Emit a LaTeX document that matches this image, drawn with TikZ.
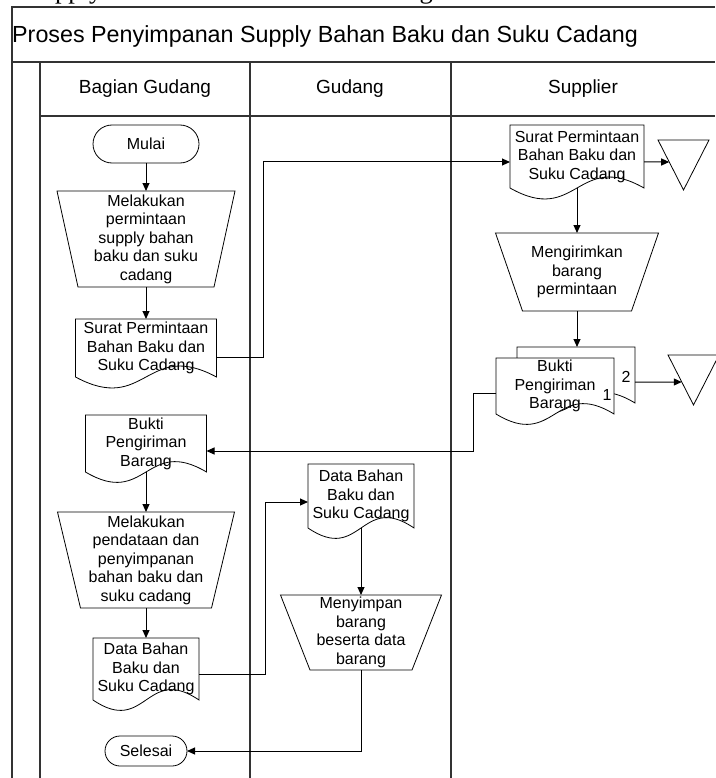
\documentclass[tikz,border=0pt]{standalone}
\usepackage{fontspec}
\setmainfont{Liberation Sans}
\newfontfamily\capserif{Liberation Serif}
\usetikzlibrary{arrows.meta,calc,shapes.misc}

\newcommand{\nodefont}{\fontsize{16}{18.5}\selectfont}
\newcommand{\headfont}{\fontsize{19}{22}\selectfont}
\newcommand{\titlefont}{\fontsize{23.3}{27}\selectfont}
\newcommand{\capfont}{\capserif\fontsize{26.5}{30}\selectfont}

% outline of a document symbol (wavy bottom) around a node
\newcommand{\docpath}[2]{(#1.north west) -- (#1.north east) -- (#1.south east)
  .. controls ($(#1.south)+(0,-#2)$) and ($(#1.south)+(0,#2)$) .. (#1.south west) -- cycle}
% outline of a manual operation (upside-down trapezium) around a node
\newcommand{\trappath}[2]{(#1.north west) -- (#1.north east) -- ($(#1.south east)+(-#2,0)$)
  -- ($(#1.south west)+(#2,0)$) -- cycle}
% outline of an offline storage triangle around a node
\newcommand{\tripath}[1]{(#1.north west) -- (#1.north east) -- (#1.south) -- cycle}

\tikzset{
  frameline/.style={draw=black!80, line width=1.3pt},
  outline/.style={draw=black, line width=0.8pt},
  conn/.style={draw=black, line width=1pt},
  arr/.style={conn, -{Triangle[length=8pt,width=7pt]}},
  box/.style={inner sep=0pt, outer sep=0pt, align=center, font=\nodefont, text=black},
  term/.style={box, rounded rectangle, draw=black, line width=0.8pt},
  head/.style={inner sep=0pt, font=\headfont, text=black},
}

\begin{document}
\begin{tikzpicture}[x=1pt,y=-1pt]
\useasboundingbox (0,0) rectangle (715,778);

% caption line above the chart (only its lower edge lies on the page)
\begin{scope}
  \clip (0,0) rectangle (715,7);
  \node[anchor=base west, inner sep=0pt, font=\capfont] (caption) at (27,-1.5) {Supply Bahan Baku dan Suku Cadang};
\end{scope}

% swimlane frame
\draw[frameline] (12,778) -- (12,7) -- (715,7);
\draw[frameline] (12,62) -- (715,62);
\draw[frameline] (40,116) -- (715,116);
\draw[frameline] (40,62) -- (40,778);
\draw[frameline] (250,62) -- (250,778);
\draw[frameline] (451,62) -- (451,778);

\node[anchor=west, inner sep=0pt, font=\titlefont] (title) at (12,36) {Proses Penyimpanan Supply Bahan Baku dan Suku Cadang};
\node[head] (laneA) at (145,89) {Bagian Gudang};
\node[head] (laneB) at (350,89) {Gudang};
\node[head] (laneC) at (583,89) {Supplier};

% ---- Bagian Gudang ----
\node[term, minimum width=106pt, minimum height=38pt] (mulai) at (146,144) {Mulai};

\node[box, minimum width=178pt, minimum height=96pt] (trap1) at (146,239)
  {Melakukan\\permintaan\\supply bahan\\baku dan suku\\cadang};
\draw[outline] \trappath{trap1}{21};

\node[box, minimum width=141pt, minimum height=58pt] (doc1) at (146,348)
  {Surat Permintaan\\Bahan Baku dan\\Suku Cadang};
\draw[outline] \docpath{doc1}{38};

\node[box, minimum width=121pt, minimum height=57pt] (bukti) at (146,443.5)
  {Bukti\\Pengiriman\\Barang};
\draw[outline] \docpath{bukti}{36};

\node[box, minimum width=177pt, minimum height=96pt] (trap3) at (146,560)
  {Melakukan\\pendataan dan\\penyimpanan\\bahan baku dan\\suku cadang};
\draw[outline] \trappath{trap3}{23};

\node[box, minimum width=106pt, minimum height=62pt] (datadoc) at (146,669)
  {Data Bahan\\Baku dan\\Suku Cadang};
\draw[outline] \docpath{datadoc}{36};

\node[term, minimum width=82pt, minimum height=30pt] (selesai) at (146,751) {Selesai};

% ---- Gudang ----
\node[box, minimum width=106pt, minimum height=64pt] (gdata) at (361,496)
  {Data Bahan\\Baku dan\\Suku Cadang};
\draw[outline] \docpath{gdata}{36};

\node[box, minimum width=161pt, minimum height=75pt] (trap4) at (361,632.5)
  {Menyimpan\\barang\\beserta data\\barang};
\draw[outline] \trappath{trap4}{29.5};

% ---- Supplier ----
\node[box, minimum width=134pt, minimum height=63pt] (sdoc) at (577,156.5)
  {Surat Permintaan\\Bahan Baku dan\\Suku Cadang};
\draw[outline] \docpath{sdoc}{38};

\node[box, minimum width=51pt, minimum height=50pt] (tri1) at (683.5,165) {};
\draw[outline] \tripath{tri1};

\node[box, minimum width=163pt, minimum height=78pt] (trap2) at (577,272)
  {Mengirimkan\\barang\\permintaan};
\draw[outline] \trappath{trap2}{27};

% two-copy document
\node[box, minimum width=118pt, minimum height=56pt] (back) at (576,375) {};
\node[box, minimum width=118pt, minimum height=56pt] (front) at (555,386) {};
\draw[outline, fill=white] \docpath{back}{36};
\draw[outline, fill=white] \docpath{front}{36};
\node[box] (fronttext) at (front.center) {Bukti\\Pengiriman\\Barang};
\node[box] (copy2) at (626,377) {2};
\node[box] (copy1) at (607,395) {1};

\node[box, minimum width=51pt, minimum height=50pt] (tri2) at (693.5,380) {};
\draw[outline] \tripath{tri2};

% ---- flow ----
\draw[arr] (mulai.south) -- (mulai.south |- trap1.north);
\draw[arr] (trap1.south) -- (trap1.south |- doc1.north);
\draw[arr] ($(doc1.east)+(0,9)$) -- ++(47,0) |- ($(sdoc.west)+(0,5.5)$);
\draw[arr] ($(sdoc.east)+(0,5.5)$) -- ($(tri1.north west)!0.44!(tri1.south)$);
\draw[arr] (sdoc.south) -- (sdoc.south |- trap2.north);
\draw[arr] (trap2.south) -- (trap2.south |- back.north);
\draw[arr] ($(back.east)+(0,7)$) -- ($(tri2.north west)!0.54!(tri2.south)$);
\draw[arr] ($(front.west)+(0,7)$) -- ++(-23,0) |- ($(bukti.east)+(0,7.5)$);
\draw[arr] (bukti.south) -- (bukti.south |- trap3.north);
\draw[arr] (trap3.south) -- (trap3.south |- datadoc.north);
\draw[arr] ($(datadoc.east)+(0,5)$) -- ++(66,0) |- ($(gdata.west)+(0,6)$);
\draw[arr] (gdata.south) -- (gdata.south |- trap4.north);
\draw[arr] (trap4.south) |- (selesai.east);

\end{tikzpicture}
\end{document}
